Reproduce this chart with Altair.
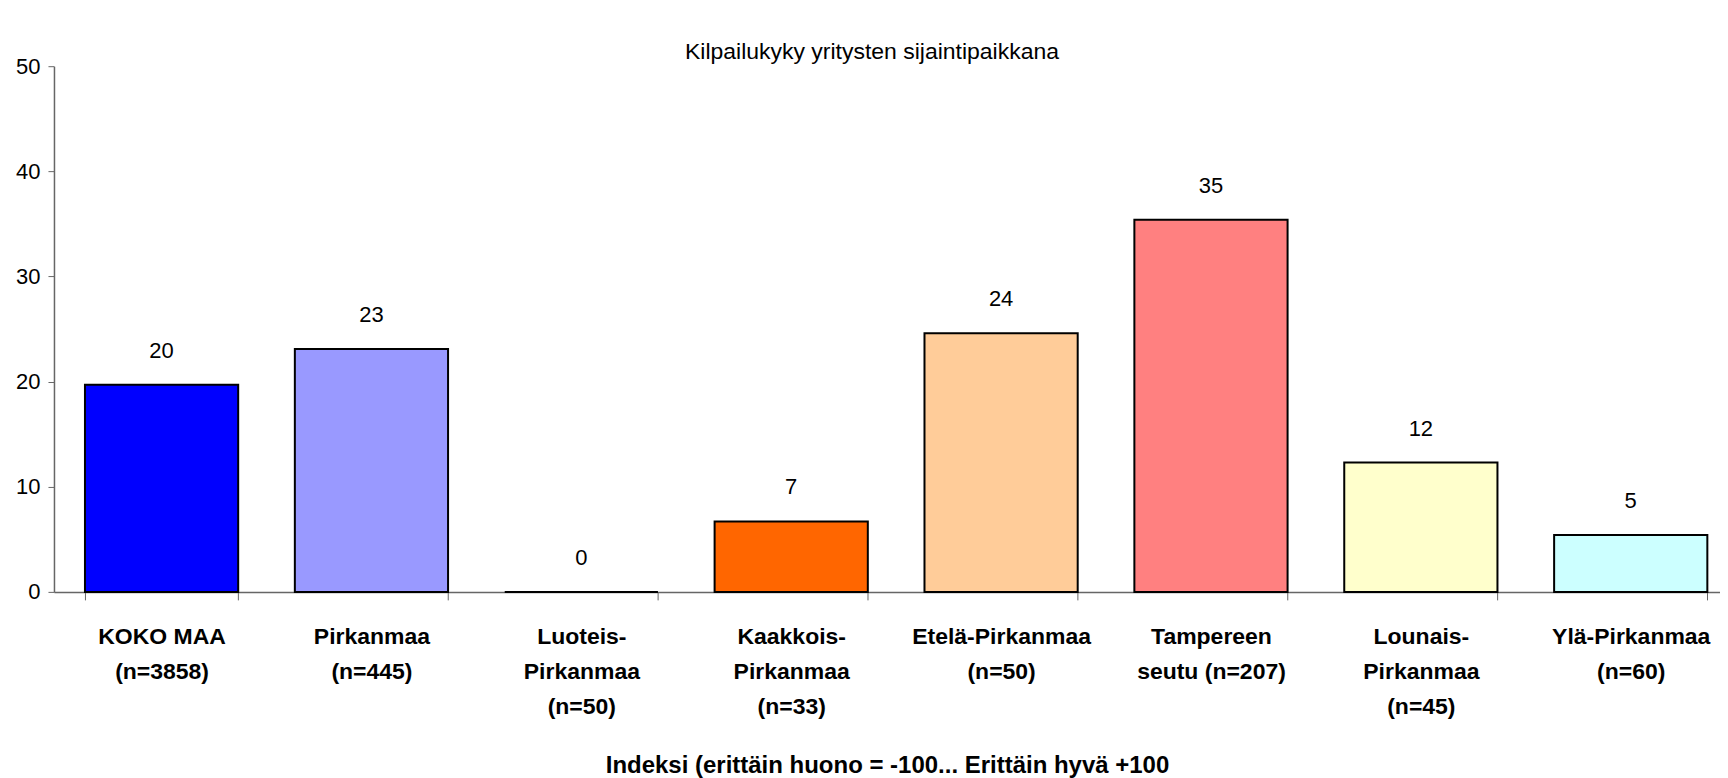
import altair as alt
import pandas as pd

categories = [
    "KOKO MAA|(n=3858)",
    "Pirkanmaa|(n=445)",
    "Luoteis-|Pirkanmaa|(n=50)",
    "Kaakkois-|Pirkanmaa|(n=33)",
    "Etelä-Pirkanmaa|(n=50)",
    "Tampereen|seutu (n=207)",
    "Lounais-|Pirkanmaa|(n=45)",
    "Ylä-Pirkanmaa|(n=60)",
]
values = [19.7, 23.1, 0.0, 6.7, 24.6, 35.4, 12.3, 5.4]
labels = ["20", "23", "0", "7", "24", "35", "12", "5"]
colors = ["#0000FF", "#9999FF", "#993366", "#FF6600", "#FFCC99", "#FF8080", "#FFFFCC", "#CCFFFF"]

df = pd.DataFrame({"cat": categories, "value": values, "label": labels, "color": colors})

FONT = "Liberation Sans"

x_enc = alt.X(
    "cat:N",
    sort=categories,
    scale=alt.Scale(paddingInner=0.27, paddingOuter=0.104, align=0.71),
    axis=alt.Axis(
        title="Indeksi (erittäin huono = -100... Erittäin hyvä +100",
        titleFont=FONT, titleFontSize=24, titleFontWeight="bold", titleColor="#000000",
        titlePadding=35,
        labelExpr="split(datum.label, '|')",
        labelAngle=0, labelFont=FONT, labelFontSize=23, labelFontWeight="bold",
        labelColor="#000000", labelLineHeight=35, labelPadding=26,
        tickBand="extent", tickSize=8, tickColor="#666666", domainColor="#666666",
        domainWidth=1.5, tickWidth=1, labelOverlap=False, labelLimit=400,
    ),
)

y_enc = alt.Y(
    "value:Q",
    scale=alt.Scale(domain=[0, 50], nice=False),
    axis=alt.Axis(
        title=None, values=[0, 10, 20, 30, 40, 50], grid=False,
        labelFont=FONT, labelFontSize=22, labelColor="#000000", labelPadding=8,
        tickSize=6, tickColor="#666666", domainColor="#666666", domainWidth=1.5,
    ),
)

bars = alt.Chart(df).mark_bar(stroke="#000000", strokeWidth=2).encode(
    x=x_enc, y=y_enc, fill=alt.Fill("color:N", scale=None)
)

text = alt.Chart(df).mark_text(
    font=FONT, fontSize=22, color="#000000", baseline="middle", dy=-34
).encode(x=alt.X("cat:N", sort=categories), y="value:Q", text="label:N")

chart = alt.layer(bars, text).properties(
    width=1667,
    height=526,
    title=alt.TitleParams(
        "Kilpailukyky yritysten sijaintipaikkana",
        font=FONT, fontSize=23, fontWeight="normal", color="#000000",
        anchor="middle", frame="group", offset=-9, dx=-15,
    ),
    padding={"left": 7, "top": 33, "right": 0, "bottom": 0},
).configure(
    background="#FFFFFF",
    view=alt.ViewConfig(strokeWidth=0, stroke="transparent"),
)

chart.save("out.html", embed_options={"renderer": "svg", "actions": False})
